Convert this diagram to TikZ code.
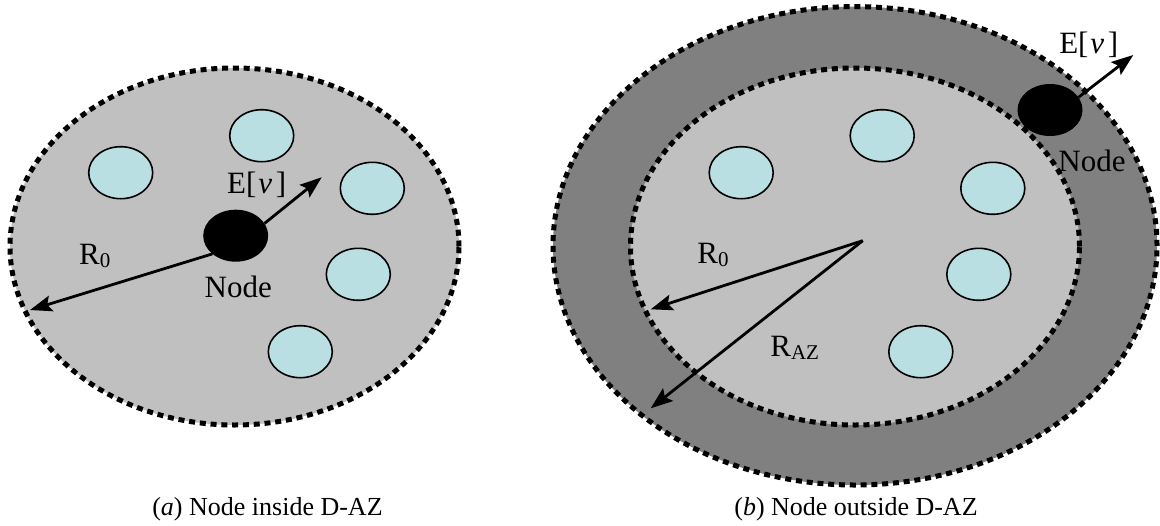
\documentclass[tikz,border=0pt]{standalone}
\usepackage{fontspec}
\setmainfont{Liberation Serif}
\usetikzlibrary{shapes.geometric,arrows.meta}
\definecolor{zonegray}{RGB}{192,192,192}
\definecolor{ringgray}{RGB}{128,128,128}
\definecolor{nbcyan}{RGB}{185,223,227}
\newcommand{\lbsub}[1]{\raisebox{-0.1em}{\fontsize{10.5}{11}\selectfont #1}}
\newcommand{\evtxt}{E[\hspace{0.06em}\textit{ν}\hspace{0.12em}]}
\begin{document}
\begin{tikzpicture}[x=0.5pt,y=-0.5pt,
 zone/.style={ellipse, inner sep=0pt, outer sep=0pt, line width=2.5pt, dash pattern=on 3pt off 2.4pt, draw=black},
 nbr/.style={ellipse, inner sep=0pt, outer sep=0pt, draw=black, line width=0.8pt, fill=nbcyan, minimum width=32pt, minimum height=26pt},
 me/.style={ellipse, inner sep=0pt, outer sep=0pt, fill=black, minimum width=32.5pt, minimum height=26pt},
 lbl/.style={font=\rmfamily\fontsize{15.5}{18}\selectfont, inner sep=0pt, anchor=base},
 captxt/.style={font=\rmfamily\fontsize{13}{16}\selectfont, inner sep=0pt, anchor=base},
 arr/.style={line width=1.4pt, -{Stealth[length=11pt,width=8pt,inset=2pt]}}
]
\useasboundingbox (0,0) rectangle (1160,525);

% ---------- (a) ----------
\node[zone, fill=zonegray, minimum width=224.5pt, minimum height=178.5pt] (zoneA) at (234.5,246.5) {};
\node[nbr] (a1) at (120.7,172.7) {};
\node[nbr] (a2) at (261.7,135.7) {};
\node[nbr] (a3) at (372.3,188.3) {};
\node[nbr] (a4) at (358.3,274.3) {};
\node[nbr] (a5) at (300.3,351.7) {};
\node[me] (nodeA) at (235.7,235.7) {};
\coordinate (evA) at (321.7,177.3);
\coordinate (r0A) at (30,310);
\draw[arr] (nodeA.23) -- (evA);
\draw[arr] (nodeA.218) -- (r0A);
\node[lbl] (evLabA) at (256.7,193.3) {\evtxt};
\node[lbl] (r0LabA) at (94.7,264) {R\lbsub{0}};
\node[lbl] (nodeLabA) at (238.3,297.3) {Node};
\node[captxt] (capA) at (267.5,515) {(\textit{a}) Node inside D-AZ};

% ---------- (b) ----------
\node[zone, fill=ringgray, minimum width=302pt, minimum height=239.2pt] (ringB) at (855,245.8) {};
\node[zone, fill=zonegray, minimum width=224.5pt, minimum height=178.5pt] (zoneB) at (855,246.5) {};
\node[nbr] (b1) at (741.2,172.7) {};
\node[nbr] (b2) at (882.2,135.7) {};
\node[nbr] (b3) at (992.8,188.3) {};
\node[nbr] (b4) at (978.8,274.3) {};
\node[nbr] (b5) at (920.8,351.7) {};
\node[me] (nodeB) at (1050,110) {};
\coordinate (evB) at (1133.3,55);
\coordinate (ctrB) at (862.7,240.7);
\coordinate (r0B) at (650.7,309.3);
\coordinate (razB) at (650.7,408.3);
\draw[arr] (nodeB.24) -- (evB);
\draw[arr] (ctrB) -- (r0B);
\draw[arr] (ctrB) -- (razB);
\node[lbl] (evLabB) at (1088.7,53.3) {\evtxt};
\node[lbl] (nodeLabB) at (1092,171.7) {Node};
\node[lbl] (r0LabB) at (713,263.3) {R\lbsub{0}};
\node[lbl] (razLabB) at (794.7,356.7) {R\lbsub{AZ}};
\node[captxt] (capB) at (856,515) {(\textit{b}) Node outside D-AZ};
\end{tikzpicture}
\end{document}
